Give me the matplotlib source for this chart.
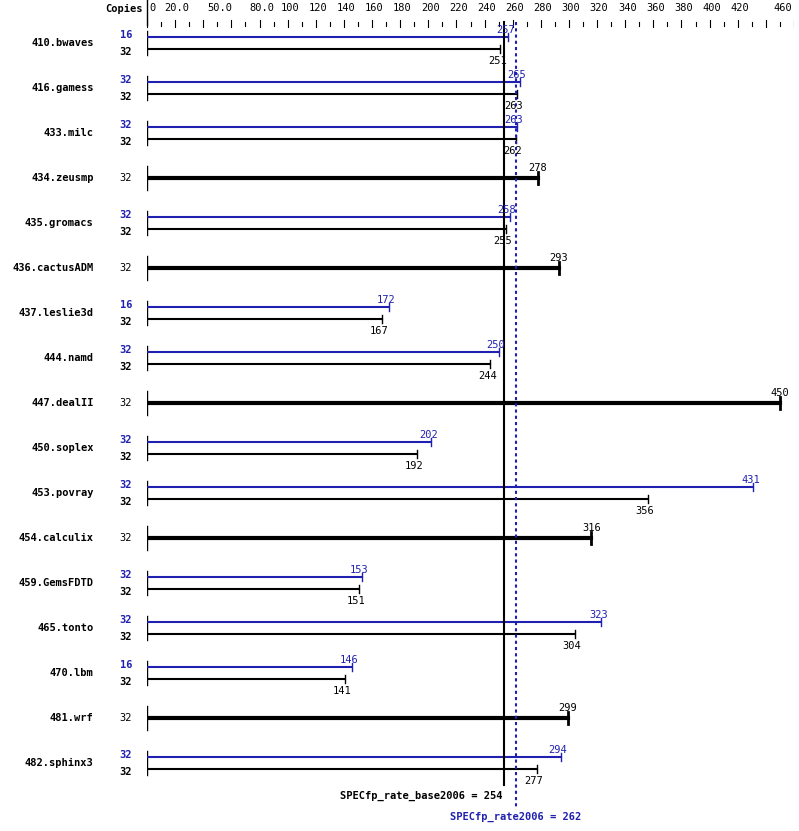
import matplotlib
matplotlib.use("Agg")
import matplotlib.pyplot as plt

names = ["410.bwaves","416.gamess","433.milc","434.zeusmp","435.gromacs","436.cactusADM",
         "437.leslie3d","444.namd","447.dealII","450.soplex","453.povray","454.calculix",
         "459.GemsFDTD","465.tonto","470.lbm","481.wrf","482.sphinx3"]
peak_copies = [16,32,32,None,32,None,16,32,None,32,32,None,32,32,16,None,32]
peak_vals   = [257,265,263,None,258,None,172,250,None,202,431,None,153,323,146,None,294]
base_copies = [32]*17
base_vals   = [251,263,262,278,255,293,167,244,450,192,356,316,151,304,141,299,277]
base_score, peak_score = 254, 262
tick_vals = [0,20,50,80,100,120,140,160,180,200,220,240,260,280,300,320,340,360,380,400,420,460]
tick_labels = ["0","20.0","50.0","80.0"] + [str(v) for v in tick_vals[4:]]

W, H = 799, 831
fig = plt.figure(figsize=(W/100, H/100), dpi=100)
x0, x1 = 147, 794
ax = fig.add_axes([x0/W, 0, (x1-x0)/W, 1])
ax.set_xlim(0, 460); ax.set_ylim(H, 0); ax.axis("off")
mono = dict(family="DejaVu Sans Mono", fontsize=7.5)
blue = "#2020b0"
fig.patch.set_facecolor("white")

# top scale
ax.plot([0,0],[0,25],color="black",lw=1,clip_on=False)
for v in range(0, 461, 10):
    ax.plot([v,v],[20,27] if v % 20 == 0 else [22,26],color="black",lw=0.8)
for v,l in zip(tick_vals,tick_labels):
    if v == 0:
        ax.text(2, 8, l, ha="left", va="center", **mono)
    elif v == 460:
        ax.text(v-1, 8, l, ha="right", va="center", **mono)
    else:
        ax.text(v+1.5, 8, l, ha="center", va="center", **mono)
ax.text(-3, 9, "Copies", ha="right", va="center", fontweight="bold", **mono)

for i, n in enumerate(names):
    c = 43 + i*45
    ax.text(-38, c, n, ha="right", va="center", fontweight="bold", **mono)
    ax.plot([0,0],[c-12,c+12],color="black",lw=1)
    if peak_vals[i] is None:
        ax.plot([0,base_vals[i]],[c,c],color="black",lw=3)
        ax.plot([base_vals[i]]*2,[c-6,c+6],color="black",lw=2)
        ax.text(-15, c, str(base_copies[i]), ha="center", va="center", **mono)
        ax.text(base_vals[i], c-10, str(base_vals[i]), ha="center", va="center", **mono)
    else:
        p, b = peak_vals[i], base_vals[i]
        ax.plot([0,p],[c-6,c-6],color=blue,lw=1.5)
        ax.plot([p,p],[c-10,c-2],color=blue,lw=1)
        ax.text(p-2, c-13, str(p), ha="center", va="center", color=blue, **mono)
        ax.text(-15, c-8, str(peak_copies[i]), ha="center", va="center", color=blue, fontweight="bold", **mono)
        ax.plot([0,b],[c+6,c+6],color="black",lw=1.5)
        ax.plot([b,b],[c+2,c+10],color="black",lw=1)
        ax.text(b-2, c+18, str(b), ha="center", va="center", **mono)
        ax.text(-15, c+9, str(base_copies[i]), ha="center", va="center", fontweight="bold", **mono)

ax.plot([base_score]*2,[22,785],color="black",lw=1.5)
ax.plot([peak_score]*2,[22,808],color=blue,lw=1.5,ls=(0,(1.5,1.5)))
ax.text(base_score-1, 796, f"SPECfp_rate_base2006 = {base_score}", ha="right", va="center", fontweight="bold", **mono)
ax.text(peak_score, 817, f"SPECfp_rate2006 = {peak_score}", ha="center", va="center", color=blue, fontweight="bold", **mono)
fig.savefig("out.png", dpi=100, facecolor="white")
